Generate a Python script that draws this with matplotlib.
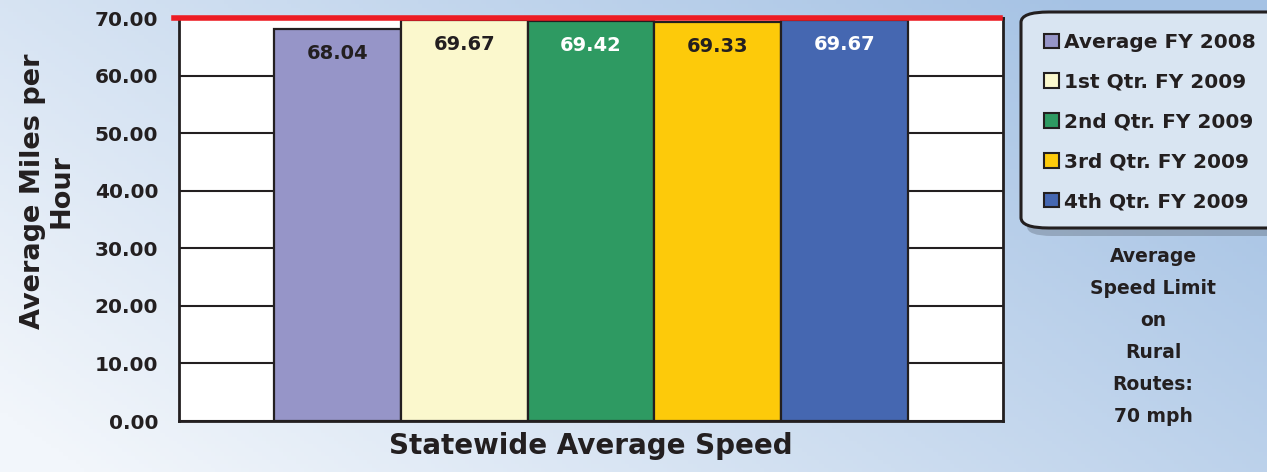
import matplotlib
matplotlib.use('Agg')
import matplotlib.pyplot as plt
import numpy as np
from matplotlib.patches import FancyBboxPatch, Patch

# data
SERIES = ["Average FY 2008", "1st Qtr. FY 2009", "2nd Qtr. FY 2009",
          "3rd Qtr. FY 2009", "4th Qtr. FY 2009"]
VALUES = [68.04, 69.67, 69.42, 69.33, 69.67]
COLORS = ["#9695c8", "#fbf8cd", "#2e9a62", "#fdca0a", "#4567b1"]
LABEL_COLORS = ["#231f20", "#231f20", "white", "#231f20", "white"]
YTICKS = [0, 10, 20, 30, 40, 50, 60, 70]
SPEED_LIMIT = 70

TXT = "#231f20"
plt.rcParams['font.family'] = ['DejaVu Sans']
plt.rcParams['font.weight'] = 'bold'

fig = plt.figure(figsize=(12.67, 4.72), dpi=100)

# gradient background
bg = fig.add_axes([0, 0, 1, 1], zorder=-10)
gx, gy = np.meshgrid(np.linspace(0, 1, 300), np.linspace(0, 1, 120))
t = np.clip(0.75 * gx + 0.4 * (1 - gy) - 0.05, 0, 1)
light = np.array([242, 246, 251]) / 255
dark = np.array([165, 194, 228]) / 255
img = light[None, None, :] * (1 - t[..., None]) + dark[None, None, :] * t[..., None]
bg.imshow(img, aspect='auto', extent=[0, 1, 0, 1], origin='upper')
bg.set_axis_off()

ax = fig.add_axes([0.1413, 0.108, 0.6503, 0.8538])
ax.set_facecolor('white')
x = np.arange(len(VALUES))
bars = ax.bar(x, VALUES, width=1.0, color=COLORS, edgecolor=TXT,
              linewidth=1.6, zorder=3)
for xi, v, c in zip(x, VALUES, LABEL_COLORS):
    ax.text(xi, v - 2.6, f"{v:.2f}", ha='center', va='top', fontsize=14,
            color=c, fontweight='bold', zorder=4)

ax.axhline(SPEED_LIMIT, xmin=-0.006, xmax=0.997, color='#ed1c24', lw=4,
           clip_on=False, zorder=5)

ax.set_xlim(-1.25, 5.25)
ax.set_ylim(0, 70)
ax.set_yticks(YTICKS)
ax.set_yticklabels([f"{v:.2f}" for v in YTICKS], fontsize=14.5, color=TXT)
ax.tick_params(axis='y', length=0, pad=15)
ax.set_xticks([])
ax.yaxis.grid(True, color=TXT, lw=1.5)
ax.set_axisbelow(True)
for s in ax.spines.values():
    s.set_linewidth(2)
    s.set_color(TXT)

ax.set_ylabel("Average Miles per\nHour", fontsize=19.5, color=TXT,
              fontweight='bold', linespacing=1.1)
ax.yaxis.set_label_coords(-0.127, 0.57)
ax.set_xlabel("Statewide Average Speed", fontsize=20, color=TXT,
              fontweight='bold', labelpad=8)

# legend box with shadow
shadow = FancyBboxPatch((1027 / 1267, 1 - 236 / 472), 0.25, 218 / 472,
                        boxstyle="round,pad=0,rounding_size=0.02",
                        transform=fig.transFigure, facecolor='#55606e',
                        alpha=0.35, edgecolor='none', zorder=1)
fig.patches.append(shadow)
box = FancyBboxPatch((1021 / 1267, 1 - 228 / 472), 0.25, 216 / 472,
                     boxstyle="round,pad=0,rounding_size=0.022",
                     transform=fig.transFigure, facecolor='#d9e5f2',
                     edgecolor=TXT, lw=2.2, zorder=2)
fig.patches.append(box)

handles = [Patch(facecolor=c, edgecolor=TXT, lw=1.5) for c in COLORS]
leg = fig.legend(handles, SERIES, loc='upper left',
                 bbox_to_anchor=(1036 / 1267, 1 - 25 / 472), frameon=False,
                 fontsize=14.5, handlelength=0.75, handleheight=0.75,
                 handletextpad=0.25, labelspacing=1.03, borderaxespad=0)
for tx in leg.get_texts():
    tx.set_color(TXT)
    tx.set_fontweight('bold')
leg.set_zorder(3)

fig.text(1153 / 1267, 1 - 247 / 472,
         "Average\nSpeed Limit\non\nRural\nRoutes:\n70 mph",
         ha='center', va='top', fontsize=13.5, color=TXT, fontweight='bold',
         linespacing=1.87)

fig.savefig("out.png", dpi=100)
